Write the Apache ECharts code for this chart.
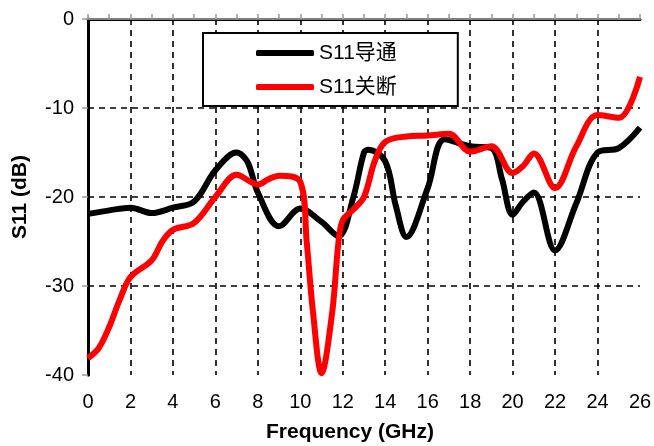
<!DOCTYPE html>
<html><head><meta charset="utf-8">
<script src="https://cdn.jsdelivr.net/npm/echarts@6/dist/echarts.min.js"></script>
<style>html,body{margin:0;padding:0;background:#fff}#c{width:654px;height:446px}</style>
</head><body><div id="c"></div>
<script>
const seriesNames = ['S11导通', 'S11关断'];
const freqOn = [0, 1, 2, 3, 4, 5, 6, 7, 7.5, 8, 9, 10, 11, 11.8, 12.5, 13, 13.2, 14, 14.5, 15, 16, 16.8, 18, 19, 19.5, 20, 20.5, 21, 22, 23, 24, 25, 26];
const s11On = [-21.9, -21.5, -21.2, -21.8, -21.2, -20.5, -17, -15, -16, -19.5, -23.3, -21.3, -22.8, -24.4, -20, -15, -14.7, -16, -21, -24.5, -19, -13.5, -14.3, -14.5, -18, -22, -20.5, -19.5, -26, -20.7, -15, -14.5, -12.2];
const freqOff = [0, 0.5, 1, 1.5, 2, 3, 3.5, 4, 5, 6, 7, 8, 8.5, 9, 10, 10.3, 10.6, 11, 11.5, 11.8, 12, 12.5, 13, 13.5, 14, 15, 16, 17, 18, 19, 20, 20.5, 21, 22, 23, 24, 25, 26];
const s11Off = [-38.1, -37, -34.6, -31.5, -29, -27.1, -25, -23.7, -22.9, -20, -17.5, -18.6, -18, -17.6, -18.3, -25, -33, -39.8, -33, -25, -22.6, -21.4, -20, -16, -13.8, -13.2, -13.1, -12.9, -14.9, -14.3, -17.3, -16.5, -15.1, -19, -14.3, -10.8, -11.1, -6.5];
const xTicks = [0, 2, 4, 6, 8, 10, 12, 14, 16, 18, 20, 22, 24, 26];
const yTicks = [0, -10, -20, -30, -40];

const FONT = '"Liberation Sans", Arial, "Noto Sans CJK SC", sans-serif';
const chart = echarts.init(document.getElementById('c'));
const pairs = (xs, ys) => xs.map((x, i) => [x, ys[i]]);
const dash = { color: '#000', width: 1.6, type: [6, 5] };
chart.setOption({
  animation: false,
  grid: { left: 88, right: 14, top: 19, bottom: 71, outerBoundsMode: 'none', containLabel: false },
  legend: {
    orient: 'vertical', left: 203, top: 33,
    padding: [9, 61, 8, 53], itemGap: 12,
    borderColor: '#000', borderWidth: 2, backgroundColor: '#fff',
    icon: 'roundRect', itemWidth: 58, itemHeight: 6,
    textStyle: { fontSize: 21, color: '#000', fontFamily: FONT, lineHeight: 22 },
    data: seriesNames
  },
  xAxis: [{
    type: 'value', min: xTicks[0], max: xTicks[xTicks.length - 1], interval: 2,
    position: 'bottom',
    name: 'Frequency (GHz)', nameLocation: 'middle', nameGap: 47,
    nameTextStyle: { fontSize: 21, fontWeight: 'bold', color: '#000', fontFamily: FONT, padding: [0, 28, 0, 0] },
    axisLine: { lineStyle: { color: '#000', width: 3 } },
    axisTick: { show: false },
    axisLabel: { fontSize: 20, color: '#000', fontFamily: FONT, margin: 17 },
    splitLine: { show: true, showMinLine: false, showMaxLine: false, lineStyle: dash }
  }, {
    type: 'value', min: xTicks[0], max: xTicks[xTicks.length - 1], interval: 1,
    position: 'top',
    axisLine: { show: true, lineStyle: { color: '#808080', width: 2 } },
    axisTick: { show: true, length: 5, lineStyle: { color: '#999', width: 1.5 } },
    axisLabel: { show: false },
    splitLine: { show: false }
  }],
  yAxis: [{
    type: 'value', min: yTicks[yTicks.length - 1], max: yTicks[0], interval: 10,
    name: 'S11 (dB)', nameLocation: 'middle', nameGap: 57,
    nameTextStyle: { fontSize: 21, fontWeight: 'bold', color: '#000', fontFamily: FONT },
    axisLine: { show: true, lineStyle: { color: '#808080', width: 3 } },
    axisTick: { show: true, length: 6, lineStyle: { color: '#999', width: 1.5 } },
    axisLabel: { fontSize: 20, color: '#000', fontFamily: FONT, margin: 14 },
    splitLine: { show: true, showMinLine: false, showMaxLine: false, lineStyle: dash }
  }, {
    type: 'value', min: -40, max: 0, interval: 10, position: 'right',
    axisLine: { show: true, lineStyle: { color: '#000', width: 3 } },
    axisTick: { show: false }, axisLabel: { show: false }, splitLine: { show: false }
  }],
  series: [{
    name: seriesNames[0], type: 'line', data: pairs(freqOn, s11On),
    smooth: 0.35, showSymbol: false, z: 3,
    lineStyle: { color: '#000', width: 6 }, itemStyle: { color: '#000' }
  }, {
    name: seriesNames[1], type: 'line', data: pairs(freqOff, s11Off),
    smooth: 0.35, showSymbol: false, z: 4,
    lineStyle: { color: '#ff0000', width: 6 }, itemStyle: { color: '#ff0000' }
  }]
});
</script></body></html>
